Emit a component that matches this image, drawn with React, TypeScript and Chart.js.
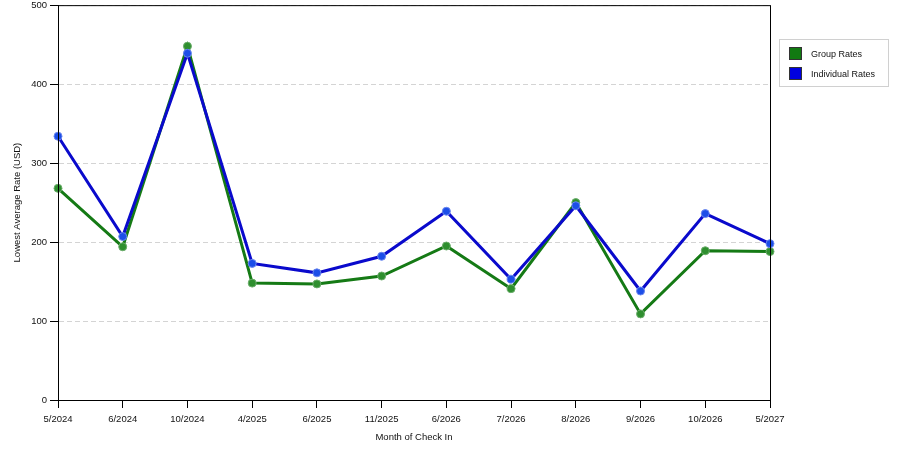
import { useEffect, useRef } from 'react';
import { Chart, registerables } from 'chart.js';
Chart.register(...registerables);

const months = ['5/2024', '6/2024', '10/2024', '4/2025', '6/2025', '11/2025', '6/2026', '7/2026', '8/2026', '9/2026', '10/2026', '5/2027'];
const groupRates = [268, 194, 448, 148, 147, 157, 195, 141, 250, 109, 189, 188];
const individualRates = [334, 207, 439, 173, 161, 182, 239, 153, 246, 138, 236, 198];
const legendItems: [string, string][] = [['#117a11', 'Group Rates'], ['#0000e0', 'Individual Rates']];

const FONT = 'Liberation Sans, Arial, sans-serif';

// black frame round the plot area
const framePlugin = {
  id: 'frame',
  afterDraw(chart: Chart) {
    const { ctx, chartArea: a } = chart;
    ctx.save();
    ctx.strokeStyle = '#000';
    ctx.lineWidth = 1;
    ctx.strokeRect(a.left + 0.5, a.top + 0.5, a.right - a.left, a.bottom - a.top);
    ctx.restore();
  },
};

export default function App() {
  const canvasRef = useRef<HTMLCanvasElement>(null);

  useEffect(() => {
    const chart = new Chart(canvasRef.current!, {
      type: 'line',
      data: {
        labels: months,
        datasets: [
          {
            label: 'Group Rates',
            data: groupRates,
            borderColor: '#157a15',
            borderWidth: 3,
            pointRadius: 4,
            pointBorderWidth: 1,
            pointBackgroundColor: '#2f8f2f',
            pointBorderColor: '#6aac6a',
            tension: 0,
            order: 1,
          },
          {
            label: 'Individual Rates',
            data: individualRates,
            borderColor: '#0a0acc',
            borderWidth: 3,
            pointRadius: 4,
            pointBorderWidth: 1,
            pointBackgroundColor: '#1c4ee8',
            pointBorderColor: '#6a86ee',
            tension: 0,
            order: 0,
          },
        ],
      },
      options: {
        animation: false,
        responsive: true,
        maintainAspectRatio: false,
        layout: { padding: { left: 0, top: 0, right: 130, bottom: 0 } },
        plugins: { legend: { display: false }, tooltip: { enabled: false } },
        scales: {
          x: {
            offset: false,
            afterFit: (s: any) => { s.height = 50; },
            grid: { drawOnChartArea: false, drawTicks: true, tickLength: 8, tickColor: '#000' },
            border: { color: '#000' },
            ticks: { color: '#111', padding: 6, maxRotation: 0, autoSkip: false, font: { size: 9.5, family: FONT } },
            title: {
              display: true,
              text: 'Month of Check In',
              color: '#111',
              font: { size: 9.5, family: FONT },
              padding: { top: 0, bottom: 7 },
            },
          },
          y: {
            min: 0,
            max: 500,
            afterFit: (s: any) => { s.width = 58; },
            grid: { color: '#d4d4d4', tickColor: '#000', tickLength: 8, tickBorderDash: [] },
            border: { color: '#000', dash: [5, 3] },
            ticks: { stepSize: 100, color: '#111', padding: 3, font: { size: 9.5, family: FONT, lineHeight: 0.45 } },
            title: {
              display: true,
              text: 'Lowest Average Rate (USD)',
              color: '#111',
              font: { size: 9.5, family: FONT },
              padding: { top: 12, bottom: 0 },
            },
          },
        },
      },
      plugins: [framePlugin],
    });
    return () => chart.destroy();
  }, []);

  return (
    <div style={{ position: 'fixed', left: 0, top: 0, width: 900, height: 450, background: '#fff' }}>
      <canvas ref={canvasRef} />
      <div
        style={{
          position: 'absolute', left: 779, top: 39, width: 108, height: 46,
          border: '1px solid #d0d0d0', fontFamily: FONT, fontSize: 9, color: '#111',
        }}
      >
        {legendItems.map(([c, l], i) => (
          <div key={l} style={{ position: 'absolute', left: 9, top: 7 + i * 20, display: 'flex', alignItems: 'center' }}>
            <span style={{ display: 'inline-block', width: 11, height: 11, background: c, border: '1px solid #333', marginRight: 9 }} />
            <span>{l}</span>
          </div>
        ))}
      </div>
    </div>
  );
}
